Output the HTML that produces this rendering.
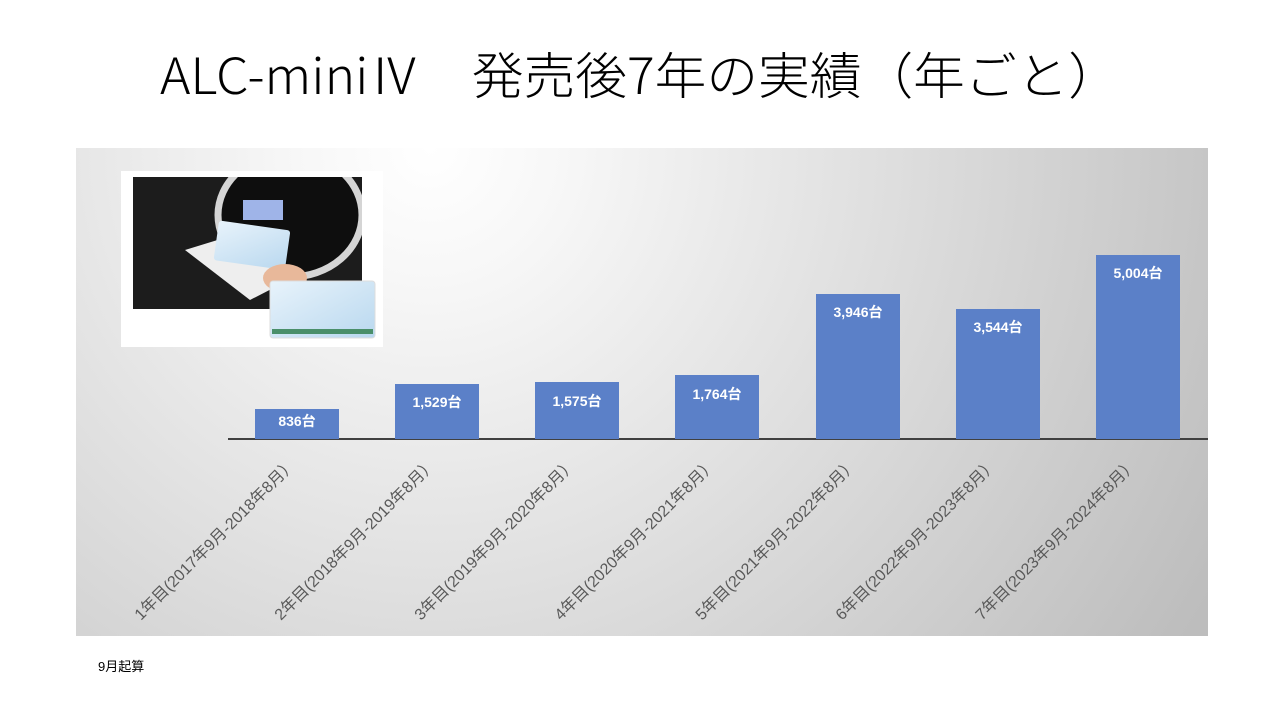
<!DOCTYPE html>
<html><head><meta charset="utf-8"><style>
html,body{margin:0;padding:0;background:#fff;width:1280px;height:720px;overflow:hidden}
</style></head><body>
<svg width="1280" height="720" viewBox="0 0 1280 720" xmlns="http://www.w3.org/2000/svg" style="display:block">
<defs>
<radialGradient id="bg" gradientUnits="userSpaceOnUse" cx="430" cy="148" r="900">
<stop offset="0" stop-color="#ffffff"/>
<stop offset="0.15" stop-color="#f7f7f7"/>
<stop offset="1" stop-color="#bdbdbd"/>
</radialGradient>
<linearGradient id="card" x1="0" y1="0" x2="1" y2="1">
<stop offset="0" stop-color="#e8f3fb"/><stop offset="1" stop-color="#b9d8ef"/>
</linearGradient>
<clipPath id="ph"><rect x="133" y="177" width="229" height="132"/></clipPath>
</defs>
<text x="160" y="94" textLength="960" lengthAdjust="spacingAndGlyphs" font-family="Noto Sans CJK JP, Liberation Sans, sans-serif" font-size="50" font-weight="300" fill="#000">ALC-miniⅣ　発売後7年の実績（年ごと）</text>
<rect x="76" y="148" width="1132" height="488" fill="url(#bg)"/>
<!-- photo -->
<rect x="121" y="171" width="262" height="176" fill="#fff"/>
<rect x="133" y="177" width="229" height="132" fill="#1c1c1c"/>
<g clip-path="url(#ph)">
<ellipse cx="290" cy="215" rx="72" ry="62" fill="#0e0e0e" stroke="#d5d5d5" stroke-width="7"/>
<rect x="243" y="200" width="40" height="20" fill="#9fb4e8"/>
<polygon points="185,250 250,230 285,282 250,300" fill="#eee"/>
<rect x="216" y="225" width="72" height="40" rx="3" fill="url(#card)" transform="rotate(8 250 245)"/>
<ellipse cx="285" cy="278" rx="22" ry="14" fill="#e8b89a"/>
</g>
<rect x="270" y="281" width="105" height="57" rx="3" fill="url(#card)" stroke="#ddd"/>
<rect x="272" y="329" width="101" height="5" fill="#4a8f6a"/>
<!-- baseline -->
<line x1="228" y1="439" x2="1208" y2="439" stroke="#404040" stroke-width="2"/>
<g fill="#5b80c8">
<rect x="255" y="409" width="84" height="30"/>
<rect x="395" y="384" width="84" height="55"/>
<rect x="535" y="382" width="84" height="57"/>
<rect x="675" y="375" width="84" height="64"/>
<rect x="816" y="294" width="84" height="145"/>
<rect x="956" y="309" width="84" height="130"/>
<rect x="1096" y="255" width="84" height="184"/>
</g>
<g font-family="Liberation Sans, Noto Sans CJK JP, sans-serif" font-size="14" font-weight="bold" fill="#fff" text-anchor="middle">
<text x="297" y="426">836台</text>
<text x="437" y="407">1,529台</text>
<text x="577" y="406">1,575台</text>
<text x="717" y="399">1,764台</text>
<text x="858" y="317">3,946台</text>
<text x="998" y="332">3,544台</text>
<text x="1138" y="278">5,004台</text>
</g>
<g font-family="Liberation Sans, Noto Sans CJK JP, sans-serif" font-size="16" fill="#595959" text-anchor="end">
<text transform="translate(297,465) rotate(-45)">1年目(2017年9月-2018年8月）</text>
<text transform="translate(437,465) rotate(-45)">2年目(2018年9月-2019年8月）</text>
<text transform="translate(577,465) rotate(-45)">3年目(2019年9月-2020年8月）</text>
<text transform="translate(717,465) rotate(-45)">4年目(2020年9月-2021年8月）</text>
<text transform="translate(858,465) rotate(-45)">5年目(2021年9月-2022年8月）</text>
<text transform="translate(998,465) rotate(-45)">6年目(2022年9月-2023年8月）</text>
<text transform="translate(1138,465) rotate(-45)">7年目(2023年9月-2024年8月）</text>
</g>
<text x="98" y="671" font-family="Liberation Sans, Noto Sans CJK JP, sans-serif" font-size="13" fill="#000">9月起算</text>
</svg>
</body></html>
